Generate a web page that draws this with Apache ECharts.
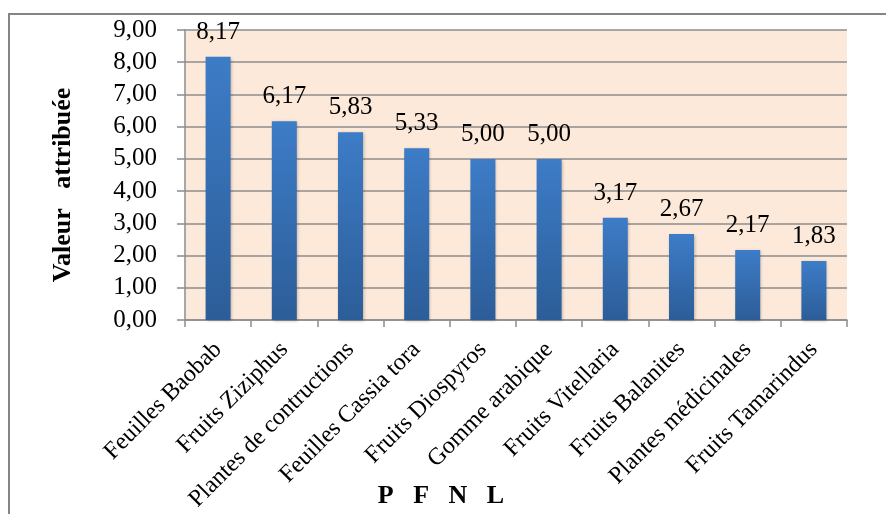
<!DOCTYPE html>
<html>
<head>
<meta charset="utf-8">
<script src="https://cdn.jsdelivr.net/npm/echarts@6/dist/echarts.min.js"></script>
<style>
  html, body { margin: 0; padding: 0; background: #ffffff; }
  #chart { width: 886px; height: 514px; }
</style>
</head>
<body>
<div id="chart"></div>
<script>
// Produits forestiers non ligneux et valeur attribuée
const categories = [
  'Feuilles Baobab', 'Fruits Ziziphus', 'Plantes de contructions',
  'Feuilles Cassia tora', 'Fruits Diospyros', 'Gomme arabique',
  'Fruits Vitellaria', 'Fruits Balanites', 'Plantes médicinales',
  'Fruits Tamarindus'
];
const values = [8.17, 6.17, 5.83, 5.33, 5.00, 5.00, 3.17, 2.67, 2.17, 1.83];
const yTicks = [0, 1, 2, 3, 4, 5, 6, 7, 8, 9];
const xTitle = 'P   F   N   L';
const yTitle = 'Valeur   attribuée';

const fr = v => Number(v).toFixed(2).replace('.', ',');
const serif = '"Liberation Serif", "Times New Roman", serif';

const chart = echarts.init(document.getElementById('chart'));
chart.setOption({
  backgroundColor: '#ffffff',
  animation: false,
  graphic: [
    {
      type: 'rect',
      shape: { x: 9, y: 14, width: 920, height: 540 },
      style: { fill: 'none', stroke: '#858585', lineWidth: 2 },
      z: 100
    },
    {
      type: 'text',
      x: 63, y: 185, rotation: Math.PI / 2,
      style: {
        text: yTitle, fill: '#000', font: 'bold 26px ' + serif,
        textAlign: 'center', textVerticalAlign: 'middle'
      }
    },
    {
      type: 'text',
      x: 441, y: 496,
      style: {
        text: xTitle, fill: '#000', font: 'bold 26px ' + serif,
        textAlign: 'center', textVerticalAlign: 'middle'
      }
    }
  ],
  grid: {
    left: 185, top: 30, right: 39, bottom: 194,
    show: true, backgroundColor: '#fde9d9', borderWidth: 0
  },
  xAxis: {
    type: 'category',
    data: categories,
    axisLine: { lineStyle: { color: '#8c8c8c', width: 1.5 } },
    axisTick: { show: true, length: 7, lineStyle: { color: '#8c8c8c', width: 1.5 } },
    axisLabel: {
      rotate: 45, interval: 0, margin: 26,
      fontFamily: serif, fontSize: 24, color: '#000'
    }
  },
  yAxis: {
    type: 'value',
    min: yTicks[0], max: yTicks[yTicks.length - 1], interval: 1,
    axisLine: { show: true, lineStyle: { color: '#8c8c8c', width: 1.5 } },
    axisTick: { show: true, length: 8, lineStyle: { color: '#8c8c8c', width: 1.5 } },
    axisLabel: { formatter: fr, margin: 28, fontFamily: serif, fontSize: 25, color: '#000' },
    splitLine: { lineStyle: { color: '#8c8c8c', width: 1.5 } }
  },
  series: [{
    type: 'bar',
    data: values,
    barWidth: 25,
    itemStyle: {
      color: new echarts.graphic.LinearGradient(0, 0, 0, 1, [
        { offset: 0, color: '#3d7cc7' },
        { offset: 1, color: '#2c5d98' }
      ]),
      shadowColor: 'rgba(0,0,0,0.25)', shadowBlur: 3, shadowOffsetX: 1, shadowOffsetY: 1
    },
    label: {
      show: true, position: 'top', distance: 12,
      formatter: p => fr(p.value),
      fontFamily: serif, fontSize: 25, color: '#000'
    }
  }]
});
</script>
</body>
</html>
